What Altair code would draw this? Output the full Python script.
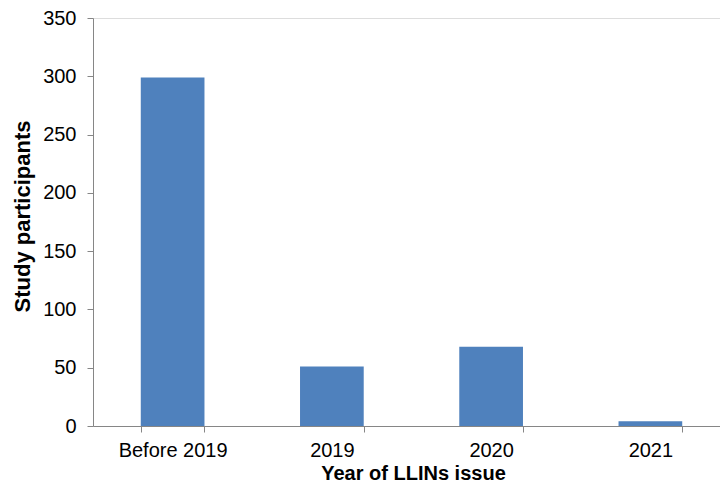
import altair as alt
import pandas as pd

categories = ["Before 2019", "2019", "2020", "2021"]
values = [299, 51, 68, 4]
y_ticks = [0, 50, 100, 150, 200, 250, 300, 350]

df = pd.DataFrame({"year": categories, "participants": values})

AXIS_COLOR = "#868686"
FONT = "Liberation Sans"

chart = (
    alt.Chart(df)
    .mark_bar(color="#4F81BD")
    .encode(
        x=alt.X(
            "year:N",
            sort=categories,
            scale=alt.Scale(paddingInner=0.6, paddingOuter=0.3, range=[0, 637]),
            axis=alt.Axis(
                title="Year of LLINs issue",
                labelAngle=0,
                tickBand="extent",
                tickSize=6,
                labelPadding=8,
                labelFontSize=20,
                labelFont=FONT,
                labelColor="#000000",
                titleFont=FONT,
                titleFontSize=20,
                titleFontWeight="bold",
                titleColor="#000000",
                titleX=320,
                titleY=53.5,
                titleBaseline="alphabetic",
                domainColor=AXIS_COLOR,
                tickColor=AXIS_COLOR,
                grid=False,
            ),
        ),
        y=alt.Y(
            "participants:Q",
            scale=alt.Scale(domain=[0, 350], nice=False),
            axis=alt.Axis(
                title="Study participants",
                values=y_ticks,
                tickSize=6,
                labelPadding=11,
                labelFontSize=20,
                labelFont=FONT,
                labelColor="#000000",
                titleFont=FONT,
                titleFontSize=22,
                titleFontWeight="bold",
                titleColor="#000000",
                titleAngle=270,
                titleX=-64,
                titleY=198,
                titleAlign="center",
                titleBaseline="alphabetic",
                domainColor=AXIS_COLOR,
                tickColor=AXIS_COLOR,
                grid=False,
            ),
        ),
    )
    .properties(
        width=627,
        height=408,
        autosize=alt.AutoSizeParams(type="none"),
        padding={"left": 85, "top": 10, "right": 0, "bottom": 58},
    )
    .configure_view(stroke=None)
    .configure(background="#ffffff")
)

chart.save("out.html", embed_options={"renderer": "svg", "actions": False})
